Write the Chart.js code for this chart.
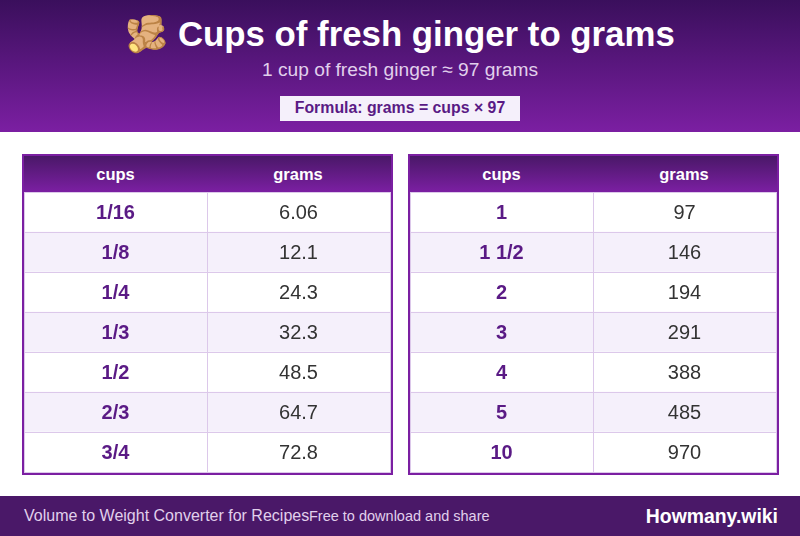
<!DOCTYPE html>
<html>
<head>
<meta charset="utf-8">
<script src="https://cdn.jsdelivr.net/npm/chart.js@4"></script>
<style>
  html, body { margin: 0; padding: 0; background: #fff; }
  body { position: relative; width: 800px; height: 536px; overflow: hidden; font-family: Arial, Helvetica, sans-serif; text-rendering: optimizeSpeed; }
  .top { position: absolute; left: 0; top: 0; width: 800px; height: 132px; background: linear-gradient(180deg, #3a0f5c, #7b1fa2); }
  .title { position: absolute; left: 0; width: 800px; top: 13px; text-align: center; color: #fff; font-size: 34.8px; font-weight: bold; line-height: 42px; }
  .sub { position: absolute; left: 0; width: 800px; top: 59px; text-align: center; color: #e1d0ec; font-size: 19.2px; line-height: 22px; }
  .formula { position: absolute; left: 280px; top: 96px; width: 240px; height: 25px; line-height: 24px; text-align: center; background: #f5f0fb; color: #5a1a85; font-size: 15.85px; font-weight: bold; }
  .table { position: absolute; top: 154px; width: 367px; height: 317px; border: 2px solid #7b1fa2; }
  .head { position: absolute; left: 0; top: 0; width: 367px; height: 36px; background: linear-gradient(180deg, #4a1868, #7b1fa2); color: #fff; font-size: 16.5px; font-weight: bold; line-height: 37px; }
  .head span { position: absolute; top: 0; text-align: center; width: 183px; }
  .head span + span { left: 182px; width: 184px; }
  .cells { position: absolute; left: 0; top: 36px; width: 367px; height: 281px; }
  .foot { position: absolute; left: 0; top: 496px; width: 800px; height: 40px; background: #4a1868; color: #e1d0ec; font-size: 16px; line-height: 40px; }
  .foot .a { position: absolute; left: 24px; }
  .foot .b { position: absolute; left: 309px; font-size: 14.5px; }
  .foot .c { position: absolute; right: 22px; color: #fff; font-weight: bold; font-size: 19.4px; }
</style>
</head>
<body>
<div class="top">
  <div class="title">🫚 Cups of fresh ginger to grams</div>
  <div class="sub">1 cup of fresh ginger ≈ 97 grams</div>
  <div class="formula">Formula: grams = cups × 97</div>
</div>
<div class="table" style="left:22px">
  <div class="head"><span>cups</span><span>grams</span></div>
  <div class="cells"><canvas id="leftTable"></canvas></div>
</div>
<div class="table" style="left:408px">
  <div class="head"><span>cups</span><span>grams</span></div>
  <div class="cells"><canvas id="rightTable"></canvas></div>
</div>
<div class="foot">
  <span class="a">Volume to Weight Converter for Recipes</span>
  <span class="b">Free to download and share</span>
  <span class="c">Howmany.wiki</span>
</div>
<script>
const leftCups = ['1/16', '1/8', '1/4', '1/3', '1/2', '2/3', '3/4'];
const leftGrams = ['6.06', '12.1', '24.3', '32.3', '48.5', '64.7', '72.8'];
const rightCups = ['1', '1 1/2', '2', '3', '4', '5', '10'];
const rightGrams = ['97', '146', '194', '291', '388', '485', '970'];

const cellText = {
    id: 'cellText',
    afterDatasetsDraw(chart) {
        const { ctx, scales: { x, y } } = chart;
        const grams = chart.options.plugins.cellText.grams;
        ctx.save();
        ctx.textAlign = 'center';
        ctx.textBaseline = 'middle';
        chart.data.labels.forEach((cup, i) => {
            const rowY = y.getPixelForValue(i) + 1;
            ctx.font = 'bold 20px Arial';
            ctx.fillStyle = '#5a1a85';
            ctx.fillText(cup, x.getPixelForValue(0.5), rowY);
            ctx.font = '20px Arial';
            ctx.fillStyle = '#333333';
            ctx.fillText(grams[i], x.getPixelForValue(1.5), rowY);
        });
        ctx.restore();
    }
};

function drawTable(id, cups, grams) {
    const stripes = cups.map((c, i) => (i % 2 ? '#f5f0fb' : '#ffffff'));
    const column = () => ({
        data: cups.map(() => 1),
        backgroundColor: stripes,
        barPercentage: 1,
        categoryPercentage: 1
    });
    const axisGrid = { color: '#dcc8ea', z: 1, drawTicks: false };
    const axisBorder = { color: '#dcc8ea', z: 1 };

    new Chart(document.getElementById(id), {
        type: 'bar',
        data: { labels: cups, datasets: [column(), column()] },
        options: {
            indexAxis: 'y',
            responsive: false,
            animation: false,
            layout: { padding: { right: 1, bottom: 1 } },
            plugins: {
                legend: { display: false },
                tooltip: { enabled: false },
                cellText: { grams: grams }
            },
            scales: {
                x: {
                    stacked: true, min: 0, max: 2,
                    ticks: { display: false, stepSize: 1 },
                    grid: axisGrid, border: axisBorder
                },
                y: {
                    stacked: true,
                    ticks: { display: false },
                    grid: axisGrid, border: axisBorder
                }
            }
        },
        plugins: [cellText]
    });
}

for (const id of ['leftTable', 'rightTable']) {
    const canvas = document.getElementById(id);
    canvas.width = 367;
    canvas.height = 281;
    canvas.style.display = 'block';
}
drawTable('leftTable', leftCups, leftGrams);
drawTable('rightTable', rightCups, rightGrams);
</script>
</body>
</html>
